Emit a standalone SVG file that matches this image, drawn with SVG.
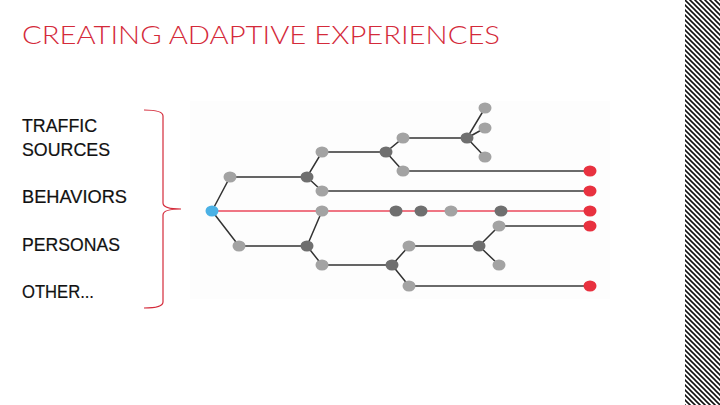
<svg xmlns="http://www.w3.org/2000/svg" width="720" height="405" viewBox="0 0 720 405">
<defs>
<pattern id="hatch" patternUnits="userSpaceOnUse" width="5" height="5">
<path d="M-1,4 L1,6 M0,0 L5,5 M4,-1 L6,1" stroke="#111" stroke-width="1.6"/>
</pattern>
<style>
.lbl{font-family:"Liberation Sans",Arial,sans-serif;font-size:18px;fill:#111;stroke:#111;stroke-width:0.2}
.title{font-family:Lato,"Liberation Sans",sans-serif;font-weight:300;font-size:26px;fill:#d42a3a}
.e{stroke:#333;stroke-width:1.5;fill:none}
.eh{stroke:#6a6a6a;stroke-width:2;fill:none}
.er{stroke:#ef7684;stroke-width:1.8;fill:none}
.g{fill:#a3a3a3}
.d{fill:#6f6f6f}
.r{fill:#e8313f}
.b{fill:#4bb1e5}
</style>
</defs>
<rect width="720" height="405" fill="#fff"/>
<rect x="685" y="0" width="35" height="405" fill="url(#hatch)"/>
<text class="title" x="22" y="44" textLength="478" lengthAdjust="spacingAndGlyphs">CREATING ADAPTIVE EXPERIENCES</text>
<g id="labels">
<text class="lbl" x="22" y="132" textLength="75" lengthAdjust="spacingAndGlyphs">TRAFFIC</text>
<text class="lbl" x="22" y="156" textLength="88" lengthAdjust="spacingAndGlyphs">SOURCES</text>
<text class="lbl" x="22" y="203" textLength="105" lengthAdjust="spacingAndGlyphs">BEHAVIORS</text>
<text class="lbl" x="22" y="251" textLength="98" lengthAdjust="spacingAndGlyphs">PERSONAS</text>
<text class="lbl" x="22" y="298" textLength="72" lengthAdjust="spacingAndGlyphs">OTHER...</text>
</g>
<path id="brace" d="M144,110 Q163,110 163,116 L163,203 Q163,209 181,209 Q163,209 163,215 L163,302 Q163,308 144,308" fill="none" stroke="#d42a3a" stroke-width="1.2"/>
<rect x="190" y="101" width="420" height="198" fill="#fdfdfd"/>
<g id="connectors">
<path class="er" d="M212,211 H590"/>
<path class="e" d="M212,211 L230,177 H307 L322,152 H386 L403,138 H467 L485,108 M467,138 L485,128 M467,138 L485,157 M386,152 L403,171 M307,177 L322,191"/>
<path class="eh" d="M403,171 H590 M322,191 H590"/>
<path class="e" d="M212,211 L239,246 H307 L322,211 M307,246 L322,265 H392 L409,246 H479 L499,226 M479,246 L499,265 M392,265 L409,286"/>
<path class="eh" d="M499,226 H590 M409,286 H590"/>
</g>
<g id="nodes">
<ellipse id="n-start" class="b" cx="212" cy="211" rx="6.5" ry="5.5"/>
<ellipse id="n-a" class="g" cx="230" cy="177" rx="6.5" ry="5.5"/>
<ellipse id="n-b" class="g" cx="239" cy="246" rx="6.5" ry="5.5"/>
<ellipse id="n-c" class="d" cx="307" cy="177" rx="6.5" ry="5.5"/>
<ellipse id="n-d" class="d" cx="307" cy="246" rx="6.5" ry="5.5"/>
<ellipse id="n-e" class="g" cx="322" cy="152" rx="6.5" ry="5.5"/>
<ellipse id="n-f" class="g" cx="322" cy="191" rx="6.5" ry="5.5"/>
<ellipse id="n-g" class="g" cx="322" cy="211" rx="6.5" ry="5.5"/>
<ellipse id="n-h" class="g" cx="322" cy="265" rx="6.5" ry="5.5"/>
<ellipse id="n-i" class="d" cx="386" cy="152" rx="6.5" ry="5.5"/>
<ellipse id="n-j" class="g" cx="403" cy="138" rx="6.5" ry="5.5"/>
<ellipse id="n-k" class="g" cx="403" cy="171" rx="6.5" ry="5.5"/>
<ellipse id="n-l" class="d" cx="467" cy="138" rx="6.5" ry="5.5"/>
<ellipse id="n-m" class="g" cx="485" cy="108" rx="6.5" ry="5.5"/>
<ellipse id="n-n" class="g" cx="485" cy="128" rx="6.5" ry="5.5"/>
<ellipse id="n-o" class="g" cx="485" cy="157" rx="6.5" ry="5.5"/>
<ellipse id="n-p1" class="d" cx="396" cy="211" rx="6.5" ry="5.5"/>
<ellipse id="n-p2" class="d" cx="421" cy="211" rx="6.5" ry="5.5"/>
<ellipse id="n-p3" class="g" cx="451" cy="211" rx="6.5" ry="5.5"/>
<ellipse id="n-p4" class="d" cx="501" cy="211" rx="6.5" ry="5.5"/>
<ellipse id="n-u" class="d" cx="392" cy="265" rx="6.5" ry="5.5"/>
<ellipse id="n-t" class="g" cx="409" cy="246" rx="6.5" ry="5.5"/>
<ellipse id="n-v" class="g" cx="409" cy="286" rx="6.5" ry="5.5"/>
<ellipse id="n-q" class="d" cx="479" cy="246" rx="6.5" ry="5.5"/>
<ellipse id="n-p" class="g" cx="499" cy="226" rx="6.5" ry="5.5"/>
<ellipse id="n-s" class="g" cx="499" cy="265" rx="6.5" ry="5.5"/>
<ellipse id="n-r1" class="r" cx="590" cy="171" rx="6.5" ry="5.5"/>
<ellipse id="n-r2" class="r" cx="590" cy="191" rx="6.5" ry="5.5"/>
<ellipse id="n-r3" class="r" cx="590" cy="211" rx="6.5" ry="5.5"/>
<ellipse id="n-r4" class="r" cx="590" cy="226" rx="6.5" ry="5.5"/>
<ellipse id="n-r5" class="r" cx="590" cy="286" rx="6.5" ry="5.5"/>
</g>
</svg>
